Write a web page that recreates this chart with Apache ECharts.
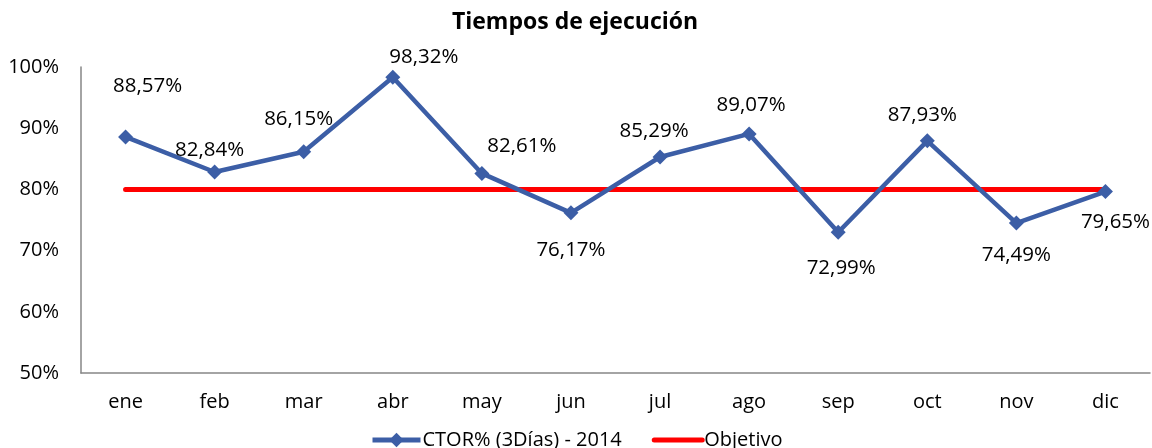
<!DOCTYPE html>
<html>
<head>
<meta charset="utf-8">
<script src="https://cdn.jsdelivr.net/npm/echarts@6/dist/echarts.min.js"></script>
<style>
  html, body { margin: 0; padding: 0; background: #fff; }
  #chart { width: 1152px; height: 448px; }
</style>
</head>
<body>
<div id="chart"></div>
<script>
const months = ['ene', 'feb', 'mar', 'abr', 'may', 'jun', 'jul', 'ago', 'sep', 'oct', 'nov', 'dic'];
const ctor = [88.57, 82.84, 86.15, 98.32, 82.61, 76.17, 85.29, 89.07, 72.99, 87.93, 74.49, 79.65];
const objetivo = [80, 80, 80, 80, 80, 80, 80, 80, 80, 80, 80, 80];

// where each data label sits relative to its point (like the hand-placed excel labels)
const labelShift = [[22, -51], [-5, -22], [-5, -33], [31, -20], [40, -27], [0, 37],
                    [-6, -26], [2, -29], [3, 36], [-5, -26], [0, 32], [10, 31]];

const font = 'Open Sans';
const blue = '#3c5ea6';

const chart = echarts.init(document.getElementById('chart'));

const fmt = v => v.toFixed(2).replace('.', ',') + '%';

chart.setOption({
    animation: false,
    title: {
        text: 'Tiempos de ejecución',
        left: 570,
        textAlign: 'center',
        top: 6,
        textStyle: { fontFamily: font, fontWeight: 'bold', fontSize: 23, color: '#000' }
    },
    legend: {
        left: 365,
        top: 425,
        itemWidth: 48,
        itemHeight: 18,
        itemGap: 30,
        textStyle: { fontFamily: font, fontSize: 20, color: '#000', padding: [0, 0, 0, -3] },
        data: [
            { name: 'CTOR% (3Días) - 2014', lineStyle: { width: 5 } },
            { name: 'Objetivo', lineStyle: { width: 5 }, itemStyle: { opacity: 0 } }
        ]
    },
    grid: { left: 81, right: 2, top: 67, bottom: 75, containLabel: false },
    xAxis: {
        type: 'category',
        data: months,
        axisLine: { lineStyle: { color: '#868686', width: 1.5 } },
        axisTick: { show: false },
        axisLabel: { fontFamily: font, fontSize: 20, color: '#000', margin: 19 }
    },
    yAxis: {
        type: 'value',
        min: 50,
        max: 100,
        interval: 10,
        splitLine: { show: false },
        axisLine: { show: true, lineStyle: { color: '#868686', width: 1.5 } },
        axisTick: { show: false },
        axisLabel: { fontFamily: font, fontSize: 20, color: '#000', margin: 22, formatter: '{value}%' }
    },
    series: [
        {
            name: 'Objetivo',
            type: 'line',
            data: objetivo,
            symbol: 'none',
            z: 2,
            itemStyle: { color: '#ff0000' },
            lineStyle: { color: '#ff0000', width: 5, cap: 'round' }
        },
        {
            name: 'CTOR% (3Días) - 2014',
            type: 'line',
            z: 3,
            data: ctor.map((v, i) => ({
                value: v,
                label: { offset: labelShift[i] }
            })),
            symbol: 'diamond',
            symbolSize: 15,
            itemStyle: { color: blue },
            lineStyle: { color: blue, width: 4.5 },
            label: {
                show: true,
                position: 'inside',
                fontFamily: font,
                fontSize: 20.5,
                color: '#000',
                formatter: p => fmt(p.value)
            }
        }
    ]
});
</script>
</body>
</html>
